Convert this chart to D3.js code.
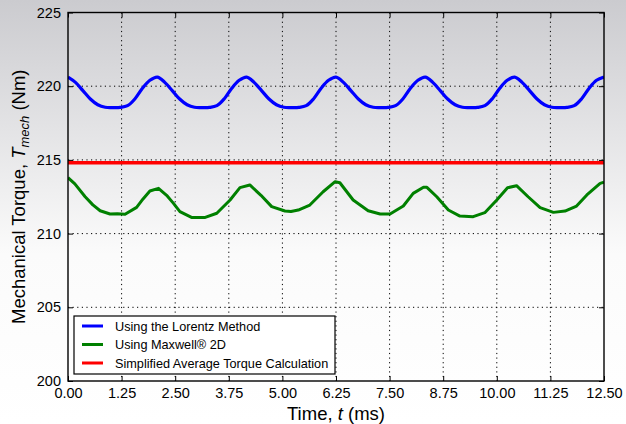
<!DOCTYPE html>
<html>
<head>
<meta charset="utf-8">
<script src="https://cdn.jsdelivr.net/npm/d3@7"></script>
<style>
  html, body { margin: 0; padding: 0; background: #fff; }
  svg { display: block; font-family: "Liberation Sans", Arial, Helvetica, sans-serif; }
</style>
</head>
<body>
<svg id="chart" width="626" height="424"></svg>
<script>
// Tick positions and labels
const timeTicks = [0, 1.25, 2.5, 3.75, 5, 6.25, 7.5, 8.75, 10, 11.25, 12.5];
const timeTickLabels = ["0.00", "1.25", "2.50", "3.75", "5.00", "6.25", "7.50", "8.75", "10.00", "11.25", "12.50"];
const torqueTicks = [200, 205, 210, 215, 220, 225];
const torqueTickLabels = ["200", "205", "210", "215", "220", "225"];

// Lorentz method torque (ms, Nm)
const lorentzTime = [
  0.000, 0.174, 0.347, 0.521, 0.694, 0.868, 1.042, 1.215, 1.389, 1.563, 1.736, 1.910,
  2.083, 2.257, 2.431, 2.604, 2.778, 2.951, 3.125, 3.299, 3.472, 3.646, 3.819, 3.993,
  4.167, 4.340, 4.514, 4.688, 4.861, 5.035, 5.208, 5.382, 5.556, 5.729, 5.903, 6.076,
  6.250, 6.424, 6.597, 6.771, 6.944, 7.118, 7.292, 7.465, 7.639, 7.813, 7.986, 8.160,
  8.333, 8.507, 8.681, 8.854, 9.028, 9.201, 9.375, 9.549, 9.722, 9.896, 10.069, 10.243,
  10.417, 10.590, 10.764, 10.938, 11.111, 11.285, 11.458, 11.632, 11.806, 11.979, 12.153, 12.326,
  12.500
];
const lorentzTorque = [
  220.62, 220.26, 219.70, 219.13, 218.74, 218.57, 218.55, 218.56, 218.68, 219.15, 219.86, 220.40,
  220.62, 220.26, 219.70, 219.13, 218.74, 218.57, 218.55, 218.56, 218.68, 219.15, 219.86, 220.40,
  220.62, 220.26, 219.70, 219.13, 218.74, 218.57, 218.55, 218.56, 218.68, 219.15, 219.86, 220.40,
  220.62, 220.26, 219.70, 219.13, 218.74, 218.57, 218.55, 218.56, 218.68, 219.15, 219.86, 220.40,
  220.62, 220.26, 219.70, 219.13, 218.74, 218.57, 218.55, 218.56, 218.68, 219.15, 219.86, 220.40,
  220.62, 220.26, 219.70, 219.13, 218.74, 218.57, 218.55, 218.56, 218.68, 219.15, 219.86, 220.40,
  220.62
];

// Maxwell 2D torque (ms, Nm)
const maxwellTime = [
  0.00, 0.16, 0.40, 0.58, 0.75, 0.98, 1.15, 1.33, 1.60, 1.75, 1.91, 2.11,
  2.30, 2.46, 2.61, 2.88, 3.20, 3.47, 3.78, 4.01, 4.24, 4.50, 4.75, 5.06,
  5.20, 5.37, 5.64, 5.95, 6.23, 6.34, 6.65, 7.00, 7.28, 7.51, 7.82, 8.05,
  8.29, 8.37, 8.60, 8.87, 9.14, 9.45, 9.72, 10.00, 10.25, 10.46, 10.73, 11.01,
  11.32, 11.59, 11.86, 12.10, 12.41, 12.50
];
const maxwellTorque = [
  213.79, 213.37, 212.50, 211.95, 211.55, 211.33, 211.35, 211.31, 211.78, 212.35, 212.89, 213.07,
  212.60, 212.05, 211.49, 211.10, 211.10, 211.38, 212.28, 213.12, 213.30, 212.60, 211.83, 211.53,
  211.50, 211.60, 211.94, 212.84, 213.52, 213.45, 212.28, 211.55, 211.33, 211.33, 211.87, 212.73,
  213.14, 213.14, 212.50, 211.60, 211.19, 211.15, 211.42, 212.28, 213.11, 213.25, 212.50, 211.76,
  211.44, 211.53, 211.87, 212.62, 213.41, 213.48
];

// Simplified average torque (ms, Nm)
const averageTime = [0, 12.5];
const averageTorque = [214.8, 214.8];

const seriesNames = ["Using the Lorentz Method", "Using Maxwell\u00AE 2D", "Simplified Average Torque Calculation"];
const seriesColors = ["#0000ff", "#008000", "#ff0000"];

const W = 626, H = 424;
const margin = { left: 68, right: 22, top: 12.5, bottom: 43 };
const svg = d3.select("#chart");

// Page background: grey fading to white
const defs = svg.append("defs");
const grad = defs.append("linearGradient").attr("id", "bg").attr("x1", 0).attr("y1", 0).attr("x2", 0).attr("y2", 1);
grad.append("stop").attr("offset", "0%").attr("stop-color", "#cbcbcf");
grad.append("stop").attr("offset", "30%").attr("stop-color", "#e3e3e5");
grad.append("stop").attr("offset", "60%").attr("stop-color", "#fbfbfb");
grad.append("stop").attr("offset", "100%").attr("stop-color", "#ffffff");
svg.append("rect").attr("width", W).attr("height", H).attr("fill", "url(#bg)");

const x = d3.scaleLinear().domain([0, 12.5]).range([margin.left, W - margin.right]);
const y = d3.scaleLinear().domain([200, 225]).range([H - margin.bottom, margin.top]);
const x0 = x.range()[0], x1 = x.range()[1], y0 = y.range()[0], y1 = y.range()[1];

defs.append("clipPath").attr("id", "plot").append("rect")
  .attr("x", x0).attr("y", y1).attr("width", x1 - x0).attr("height", y0 - y1);

// Dotted grid
const grid = svg.append("g").attr("stroke", "#000").attr("stroke-width", 1).attr("stroke-dasharray", "1.2,3.4");
grid.selectAll(".gx").data(timeTicks.slice(1, -1)).join("line")
  .attr("x1", d => x(d)).attr("x2", d => x(d)).attr("y1", y1).attr("y2", y0);
grid.selectAll(".gy").data(torqueTicks.slice(1, -1)).join("line")
  .attr("y1", d => y(d)).attr("y2", d => y(d)).attr("x1", x0).attr("x2", x1);

// Curves
const plot = svg.append("g").attr("clip-path", "url(#plot)");
const lineSmooth = d3.line().x(d => x(d[0])).y(d => y(d[1])).curve(d3.curveCatmullRom.alpha(0.5));
const lineStraight = d3.line().x(d => x(d[0])).y(d => y(d[1]));

plot.append("path").datum(d3.zip(averageTime, averageTorque))
  .attr("d", lineStraight).attr("fill", "none").attr("stroke", seriesColors[2]).attr("stroke-width", 3.5);
plot.append("path").datum(d3.zip(maxwellTime, maxwellTorque))
  .attr("d", lineStraight).attr("fill", "none").attr("stroke", seriesColors[1]).attr("stroke-width", 3)
  .attr("stroke-linejoin", "round");
plot.append("path").datum(d3.zip(lorentzTime, lorentzTorque))
  .attr("d", lineSmooth).attr("fill", "none").attr("stroke", seriesColors[0]).attr("stroke-width", 3.2);

// Axes with inward ticks on all four sides
const tickLen = 5;
const fmtX = (d, i) => timeTickLabels[i];
const fmtY = (d, i) => torqueTickLabels[i];

const axB = svg.append("g").attr("transform", `translate(0,${y0})`)
  .call(d3.axisBottom(x).tickValues(timeTicks).tickFormat(fmtX).tickSizeInner(-tickLen).tickSizeOuter(0).tickPadding(7));
const axT = svg.append("g").attr("transform", `translate(0,${y1})`)
  .call(d3.axisTop(x).tickValues(timeTicks).tickFormat("").tickSizeInner(-tickLen).tickSizeOuter(0));
const axL = svg.append("g").attr("transform", `translate(${x0},0)`)
  .call(d3.axisLeft(y).tickValues(torqueTicks).tickFormat(fmtY).tickSizeInner(-tickLen).tickSizeOuter(0).tickPadding(7));
const axR = svg.append("g").attr("transform", `translate(${x1},0)`)
  .call(d3.axisRight(y).tickValues(torqueTicks).tickFormat("").tickSizeInner(-tickLen).tickSizeOuter(0));

[axB, axT, axL, axR].forEach(a => {
  a.select(".domain").remove();
  a.selectAll(".tick line").attr("stroke", "#000").attr("stroke-width", 1);
  a.selectAll("text").attr("fill", "#000").attr("font-size", 14.5)
    .attr("font-family", "'Liberation Sans', Arial, sans-serif");
});

// Frame
svg.append("rect").attr("x", x0).attr("y", y1).attr("width", x1 - x0).attr("height", y0 - y1)
  .attr("fill", "none").attr("stroke", "#000").attr("stroke-width", 1.4);

// Axis titles
const xt = svg.append("text").attr("x", (x0 + x1) / 2).attr("y", 420)
  .attr("text-anchor", "middle").attr("font-size", 18.5).attr("fill", "#000");
xt.append("tspan").text("Time, ");
xt.append("tspan").attr("font-style", "italic").text("t");
xt.append("tspan").text(" (ms)");

const yt = svg.append("text").attr("transform", `translate(25,${(y0 + y1) / 2}) rotate(-90)`)
  .attr("text-anchor", "middle").attr("font-size", 18.5).attr("fill", "#000");
yt.append("tspan").text("Mechanical Torque, ");
yt.append("tspan").attr("font-style", "italic").text("T");
yt.append("tspan").attr("font-style", "italic").attr("font-size", 13).attr("dy", 4).text("mech");
yt.append("tspan").attr("dy", -4).text(" (Nm)");

// Legend
const lg = svg.append("g").attr("transform", "translate(74,316)");
lg.append("rect").attr("width", 261).attr("height", 58).attr("fill", "#fff")
  .attr("stroke", "#000").attr("stroke-width", 1.2);
const rows = lg.selectAll(".row").data(seriesNames).join("g")
  .attr("transform", (d, i) => `translate(0,${10 + i * 18.5})`);
rows.append("line").attr("x1", 8).attr("x2", 29).attr("y1", 0).attr("y2", 0)
  .attr("stroke", (d, i) => seriesColors[i]).attr("stroke-width", 3);
rows.append("text").attr("x", 41).attr("y", 4.5).attr("font-size", 12.7).attr("fill", "#000").text(d => d);
</script>
</body>
</html>
